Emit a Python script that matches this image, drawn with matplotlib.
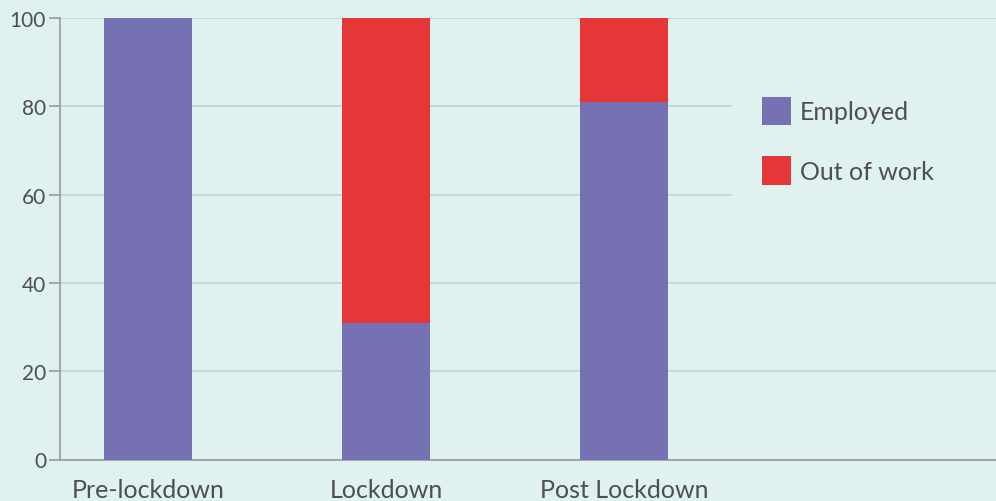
"""
plot.py
Stacked bar chart: employment status before, during and after lockdown.
"""

import matplotlib.pyplot as plt
import numpy as np

# Data
periods = ["Pre-lockdown", "Lockdown", "Post Lockdown"]
employed = [100, 31, 81]
out_of_work = [0, 69, 19]
series_labels = ["Employed", "Out of work"]
y_ticks = [0, 20, 40, 60, 80, 100]

BG = "#dff2ef"
PURPLE = "#7571b3"
RED = "#e53638"
TEXT = "#4f4f4f"
GRID = "#c3d3d1"

plt.rcParams['font.family'] = ['Lato', 'DejaVu Sans']


def create_plot():
    fig = plt.figure(figsize=(9.96, 5.02), dpi=100, facecolor=BG)
    ax = fig.add_axes([60 / 996, 41.5 / 502, 936 / 996, 441.5 / 502])
    ax.set_facecolor(BG)

    x = np.arange(len(periods))
    width = 0.37
    ax.bar(x, employed, width, color=PURPLE, label=series_labels[0], zorder=3)
    ax.bar(x, out_of_work, width, bottom=employed, color=RED,
           label=series_labels[1], zorder=3)

    ax.set_xlim(-0.370, 3.563)
    ax.set_ylim(0, 100)
    ax.set_yticks(y_ticks)
    ax.set_xticks(x)
    ax.set_xticklabels(periods)

    ax.grid(axis='y', color=GRID, linewidth=1.2, zorder=0)
    ax.set_axisbelow(True)

    for side in ['top', 'right']:
        ax.spines[side].set_visible(False)
    for side in ['left', 'bottom']:
        ax.spines[side].set_color('#9a9a9a')
        ax.spines[side].set_linewidth(1.2)

    ax.tick_params(axis='y', length=8, width=1.2, color='#9a9a9a',
                   labelsize=15, labelcolor=TEXT, pad=2)
    ax.tick_params(axis='x', length=0, labelsize=18, labelcolor=TEXT, pad=13)

    leg = ax.legend(loc='upper left', bbox_to_anchor=(0.718, 0.0, 0.29, 0.89),
                    mode='expand', frameon=True, facecolor=BG, edgecolor='none',
                    framealpha=1, fancybox=False, fontsize=18,
                    handlelength=1.16, handleheight=1.4, handletextpad=0.36,
                    labelspacing=1.22, borderpad=1.2, borderaxespad=0)
    leg.set_zorder(5)
    for t in leg.get_texts():
        t.set_color(TEXT)

    fig.savefig('out.png', dpi=100, facecolor=BG)
    plt.close('all')


if __name__ == "__main__":
    create_plot()
